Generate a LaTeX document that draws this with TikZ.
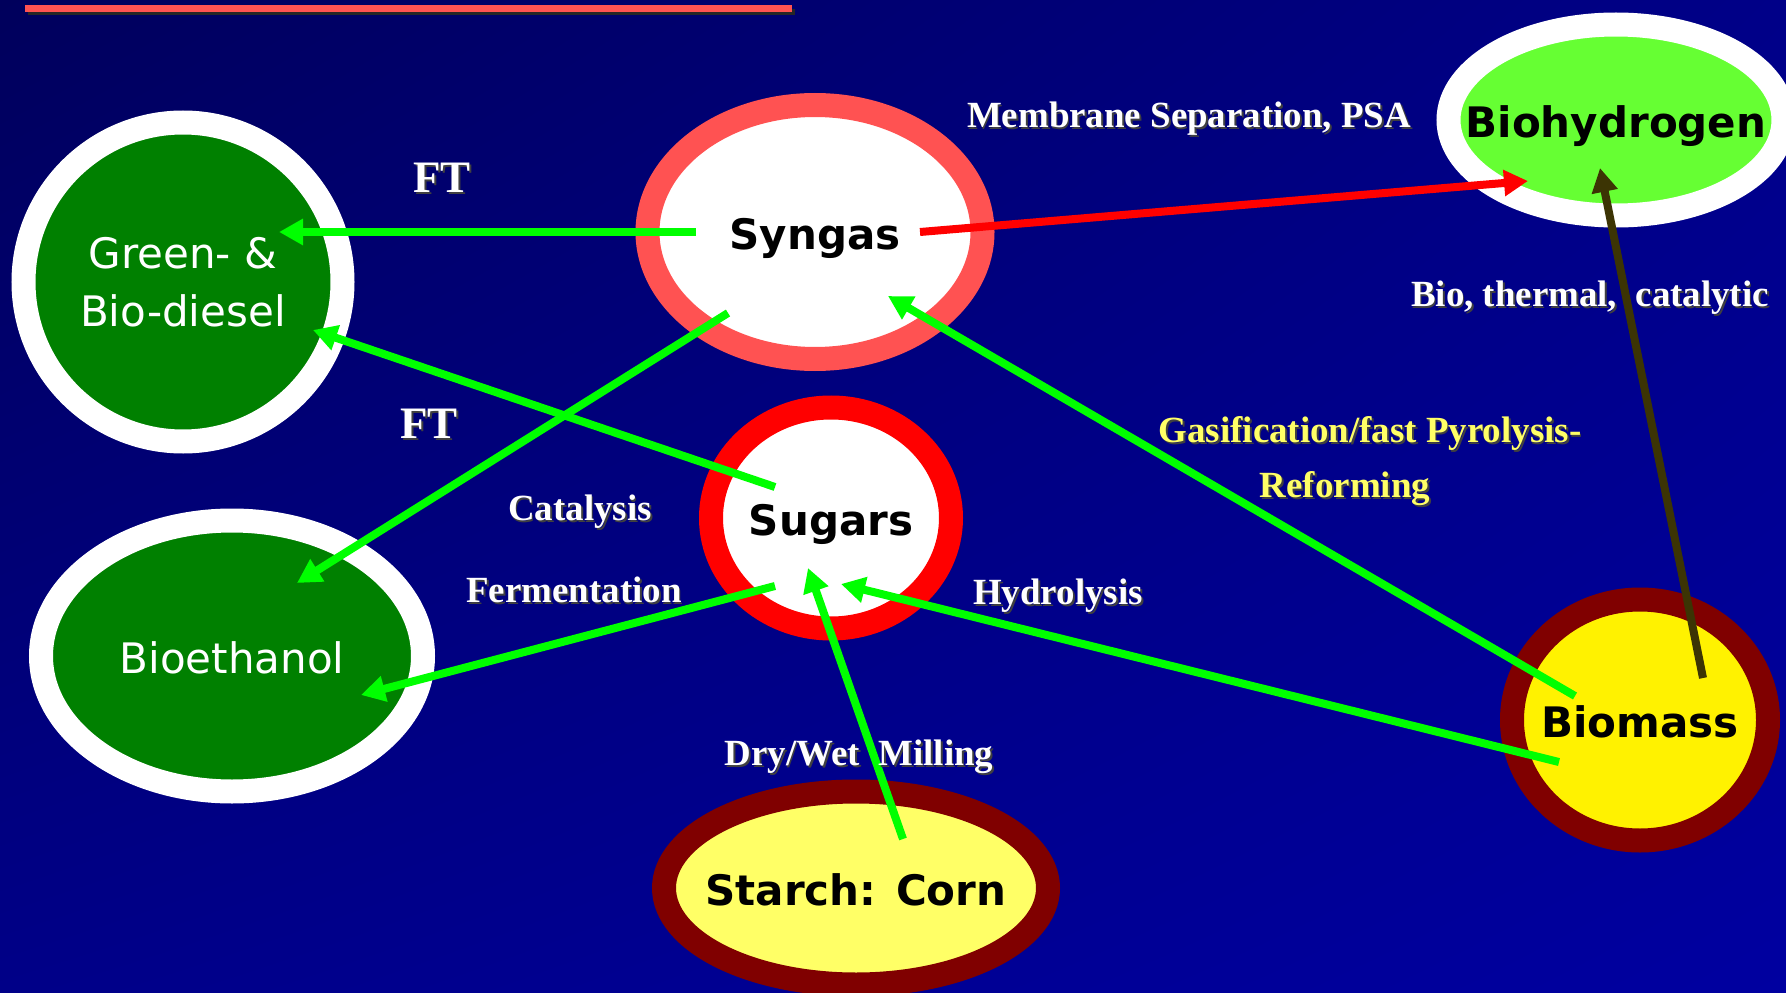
\documentclass[tikz,border=0pt]{standalone}
\usepackage{fontspec}
\setmainfont{Liberation Serif}
\newfontfamily\bubblefont{DejaVu Sans}
\usetikzlibrary{shapes.geometric, shadings}
\usetikzlibrary{arrows.meta}

\definecolor{bgdark}{RGB}{0,0,92}
\definecolor{bgmid}{RGB}{0,0,136}
\definecolor{bglight}{RGB}{0,0,160}
\definecolor{flowgreen}{RGB}{0,255,0}
\definecolor{leafgreen}{RGB}{0,128,0}
\definecolor{limegreen}{RGB}{102,255,51}
\definecolor{salmonred}{RGB}{255,82,82}
\definecolor{darkmaroon}{RGB}{128,0,0}
\definecolor{paleyellow}{RGB}{255,255,102}
\definecolor{olivebrown}{RGB}{60,52,4}
\definecolor{labelyellow}{RGB}{255,255,102}

% white slide text with a dark drop shadow
\newcommand{\dropshade}[1]{\makebox[0pt][l]{\kern0.5pt\raisebox{-0.5pt}{\color{black!75}#1}}#1}

\begin{document}
\begin{tikzpicture}[
    ring/.style={ellipse, inner sep=-1cm, text height=0.35cm, text depth=0pt, line width=0.24cm,
      align=center, font=\bubblefont\fontsize{11.95}{16.5}\selectfont},
    flow/.style={-{Triangle[length=0.24cm, width=0.25cm]}, line width=0.08cm, draw=flowgreen},
    lbl/.style={text=white, text depth=0pt, font=\bfseries\fontsize{10.5}{12}\selectfont},
  ]
  % --- background ---
  \shade[upper left=bgdark, upper right=bgmid, lower left=bgmid, lower right=bglight]
    (0,0) rectangle (17.86,9.92);
  \useasboundingbox (0,0) rectangle (17.86,9.92);
  % underline of the (cut off) title
  \fill[black!85] (0.28,9.77) rectangle (7.95,9.83);
  \fill[salmonred] (0.25,9.80) rectangle (7.92,9.87);

  % --- bubbles ---
  \node[ring, text height={}, draw=white, fill=leafgreen, text=white, minimum width=3.19cm, minimum height=3.19cm]
    (diesel) at (1.83,7.10) {Green- \&\\Bio-diesel};
  \node[ring, draw=white, fill=leafgreen, text=white, minimum width=3.82cm, minimum height=2.71cm]
    (ethanol) at (2.32,3.36) {Bioethanol};
  \node[ring, draw=salmonred, fill=white, minimum width=3.35cm, minimum height=2.54cm]
    (syngas) at (8.15,7.60) {\bfseries Syngas};
  \node[ring, draw=red, fill=white, minimum width=2.40cm, minimum height=2.21cm]
    (sugars) at (8.31,4.74) {\bfseries Sugars};
  \node[ring, draw=white, fill=limegreen, minimum width=3.35cm, minimum height=1.91cm]
    (hydrogen) at (16.16,8.72) {\bfseries Biohydrogen};
  \node[ring, draw=darkmaroon, fill=yellow, minimum width=2.56cm, minimum height=2.41cm]
    (biomass) at (16.40,2.72) {\bfseries Biomass};
  \node[ring, draw=darkmaroon, fill=paleyellow, minimum width=3.84cm, minimum height=1.93cm]
    (starch) at (8.56,1.04) {\bfseries Starch: Corn};

  % --- conversion routes ---
  \draw[flow] ([xshift=-1.19cm]syngas.center) -- ([xshift=0.96cm, yshift=0.50cm]diesel.center);
  \draw[flow] ([xshift=-0.56cm, yshift=0.31cm]sugars.center) -- ([xshift=1.30cm, yshift=-0.48cm]diesel.center);
  \draw[flow] ([xshift=-0.87cm, yshift=-0.81cm]syngas.center) -- ([xshift=0.65cm, yshift=0.73cm]ethanol.center);
  \draw[flow] ([xshift=-0.56cm, yshift=-0.68cm]sugars.center) -- ([xshift=1.29cm, yshift=-0.39cm]ethanol.center);
  \draw[flow, draw=red] ([xshift=1.05cm]syngas.center) -- ([xshift=-0.88cm, yshift=-0.61cm]hydrogen.center);
  \draw[flow, draw=olivebrown] ([xshift=0.63cm, yshift=0.42cm]biomass.center) -- ([xshift=-0.16cm, yshift=-0.48cm]hydrogen.center);
  \draw[flow] ([xshift=-0.65cm, yshift=0.24cm]biomass.center) -- ([xshift=0.73cm, yshift=-0.64cm]syngas.center);
  \draw[flow] ([xshift=-0.81cm, yshift=-0.42cm]biomass.center) -- ([xshift=0.10cm, yshift=-0.66cm]sugars.center);
  \draw[flow] ([xshift=0.47cm, yshift=0.49cm]starch.center) -- ([xshift=-0.23cm, yshift=-0.50cm]sugars.center);

  % --- process labels ---
  \node[lbl] (membrane) at (11.89,8.77) {\dropshade{Membrane Separation, PSA}};
  \node[lbl, font=\bfseries\fontsize{12.8}{14}\selectfont] (ftup) at (4.42,8.14) {\dropshade{FT}};
  \node[lbl, font=\bfseries\fontsize{12.8}{14}\selectfont] (ftlow) at (4.29,5.68) {\dropshade{FT}};
  \node[lbl] (thermal) at (15.90,6.98) {\dropshade{Bio, thermal,\ \ catalytic}};
  \node[lbl, text=labelyellow] (gasif) at (13.70,5.62) {\dropshade{Gasification/fast Pyrolysis-}};
  \node[lbl, text=labelyellow] (reform) at (13.45,5.07) {\dropshade{Reforming}};
  \node[lbl] (catal) at (5.80,4.84) {\dropshade{Catalysis}};
  \node[lbl] (ferment) at (5.74,4.02) {\dropshade{Fermentation}};
  \node[lbl] (hydrol) at (10.58,4.00) {\dropshade{Hydrolysis}};
  \node[lbl] (milling) at (8.59,2.39) {\dropshade{Dry/Wet\ \ Milling}};
\end{tikzpicture}
\end{document}
